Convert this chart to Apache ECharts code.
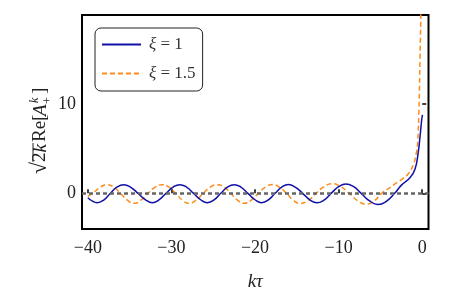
<!DOCTYPE html>
<html>
<head>
<meta charset="utf-8">
<script src="https://cdn.jsdelivr.net/npm/echarts@6/dist/echarts.min.js"></script>
<style>html,body{margin:0;padding:0;background:#fff}#c{width:450px;height:300px}</style>
</head>
<body>
<div id="c"></div>
<script>
// ---- data ----
const seriesNames = ['ξ = 1', 'ξ = 1.5'];
const xTicks = [-40, -30, -20, -10, 0];
const yTicks = [0, 10];
const xiOne = [
  [-40.0,-0.5],[-39.5,-0.85],[-38.9,-1.05],[-38.1,-0.75],[-37.3,0],[-36.5,0.72],[-35.7,0.97],[-34.9,0.7],
  [-34.0,0],[-33.1,-0.72],[-32.3,-1.05],[-31.5,-0.74],[-30.65,0],[-29.8,0.7],[-29.0,0.97],[-28.2,0.7],
  [-27.35,0],[-26.5,-0.72],[-25.7,-1.05],[-24.9,-0.74],[-24.1,0],[-23.3,0.7],[-22.5,0.97],[-21.7,0.7],
  [-20.85,0],[-20.0,-0.72],[-19.2,-1.05],[-18.4,-0.74],[-17.6,0],[-16.8,0.7],[-16.0,0.98],[-15.2,0.7],
  [-14.3,0],[-13.45,-0.74],[-12.6,-1.07],[-11.75,-0.76],[-10.9,0],[-10.0,0.74],[-9.15,1.05],[-8.2,0.75],
  [-7.3,0],[-6.3,-0.85],[-5.3,-1.25],[-4.3,-0.9],[-3.3,0],[-2.46,0.95],[-1.47,1.75],[-0.87,2.7],
  [-0.48,4.6],[-0.27,6.3],[-0.07,8.2],[0.03,8.8]
];
const xiOneHalf = [
  [-40.0,-0.35],[-39.3,0.1],[-38.5,0.7],[-37.7,0.97],[-36.9,0.7],[-36.1,0],[-35.3,-0.74],[-34.5,-1.12],
  [-33.65,-0.76],[-32.8,0],[-31.95,0.7],[-31.1,0.97],[-30.3,0.7],[-29.5,0],[-28.7,-0.76],[-27.9,-1.12],
  [-27.05,-0.76],[-26.2,0],[-25.35,0.7],[-24.5,0.97],[-23.7,0.7],[-22.9,0],[-22.1,-0.76],[-21.3,-1.12],
  [-20.45,-0.76],[-19.6,0],[-18.75,0.7],[-17.9,0.98],[-17.1,0.7],[-16.25,0],[-15.4,-0.78],[-14.6,-1.14],
  [-13.65,-0.8],[-12.7,0],[-11.75,0.75],[-10.8,1.08],[-9.8,0.78],[-8.75,0],[-7.7,-0.85],[-6.7,-1.2],
  [-5.75,-0.85],[-4.85,0],[-4.0,0.55],[-3.26,1.05],[-2.4,1.6],[-1.67,2.2],[-1.07,3.2],[-0.67,4.7],
  [-0.55,5.7],[-0.39,9.4],[-0.27,15],[-0.15,21],[-0.1,26]
];

const serif = '"Liberation Serif", "DejaVu Serif", serif';
const fmt = v => String(v).replace('-', '\u2212');

const chart = echarts.init(document.getElementById('c'), null, {renderer: 'canvas'});
chart.setOption({
  animation: false,
  backgroundColor: '#fff',
  grid: {left: 82, right: 21.5, top: 15, bottom: 71, show: true, borderColor: '#000', borderWidth: 2, backgroundColor: 'transparent'},
  xAxis: {
    type: 'value', min: -40.7, max: 0.75,
    name: 'kτ', nameLocation: 'middle', nameGap: 43,
    nameTextStyle: {fontFamily: serif, fontStyle: 'italic', fontSize: 19, color: '#222'},
    axisLine: {show: false},
    axisTick: {show: true, inside: true, length: 4, lineStyle: {color: '#000', width: 1.5}, customValues: xTicks},
    axisLabel: {show: true, customValues: xTicks, formatter: fmt, fontFamily: serif, fontSize: 18, color: '#222', margin: 10},
    splitLine: {show: false}
  },
  yAxis: {
    type: 'value', min: -4, max: 20,
    axisLine: {show: false},
    axisTick: {show: true, inside: true, length: 4, lineStyle: {color: '#000', width: 1.5}, customValues: yTicks},
    axisLabel: {show: true, customValues: yTicks, formatter: fmt, fontFamily: serif, fontSize: 18, color: '#222', margin: 6},
    splitLine: {show: false}
  },
  legend: {
    orient: 'vertical', left: 95, top: 28,
    data: seriesNames,
    itemWidth: 39, itemHeight: 18, itemGap: 12,
    padding: [8, 7, 9, 6],
    itemStyle: {opacity: 0},
    backgroundColor: '#fff', borderColor: '#222', borderWidth: 1, borderRadius: 6,
    formatter: name => name.replace('ξ', '{i|ξ}'),
    textStyle: {fontFamily: serif, fontSize: 17, color: '#333', padding: [0, 0, 0, 3],
      rich: {i: {fontFamily: serif, fontStyle: 'italic', fontSize: 17, color: '#333'}}}
  },
  series: [
    {
      name: seriesNames[1], type: 'line', data: xiOneHalf, showSymbol: false, symbol: 'none',
      smooth: 0.5, clip: true, z: 2,
      lineStyle: {color: '#ff8c1a', width: 1.5, type: [5, 3]}, itemStyle: {color: '#ff8c1a'}
    },
    {
      name: seriesNames[0], type: 'line', data: xiOne, showSymbol: false, symbol: 'none',
      smooth: 0.5, clip: true, z: 3,
      lineStyle: {color: '#1010a8', width: 1.5}, itemStyle: {color: '#1010a8'},
      markLine: {
        silent: true, symbol: 'none', label: {show: false}, z: 5,
        lineStyle: {color: '#666', width: 2.5, type: [4, 3]},
        data: [{yAxis: 0}]
      }
    }
  ],
  graphic: [{
    type: 'group', x: 50, y: 174, rotation: Math.PI / 2,
    children: [
      {type: 'text', x: 0, y: 1, style: {text: '√', font: '22px ' + serif, fill: '#222', textVerticalAlign: 'bottom'}},
      {type: 'line', shape: {x1: 12, y1: -17, x2: 31, y2: -17}, style: {stroke: '#222', lineWidth: 1}},
      {type: 'text', x: 12, y: 0, style: {text: '2', font: '19px ' + serif, fill: '#222', textVerticalAlign: 'bottom'}},
      {type: 'text', x: 21.5, y: 0, style: {text: 'k', font: 'italic 19px ' + serif, fill: '#222', textVerticalAlign: 'bottom'}},
      {type: 'text', x: 32, y: 0, style: {text: 'Re[', font: '19px ' + serif, fill: '#222', textVerticalAlign: 'bottom'}},
      {type: 'text', x: 58, y: 0, style: {text: 'A', font: 'italic 19px ' + serif, fill: '#222', textVerticalAlign: 'bottom'}},
      {type: 'text', x: 71, y: -9, style: {text: 'k', font: 'italic 12px ' + serif, fill: '#222', textVerticalAlign: 'bottom'}},
      {type: 'text', x: 70, y: 4, style: {text: '+', font: '12px ' + serif, fill: '#222', textVerticalAlign: 'bottom'}},
      {type: 'text', x: 80, y: 0, style: {text: ']', font: '19px ' + serif, fill: '#222', textVerticalAlign: 'bottom'}}
    ]
  }]
});
</script>
</body>
</html>
